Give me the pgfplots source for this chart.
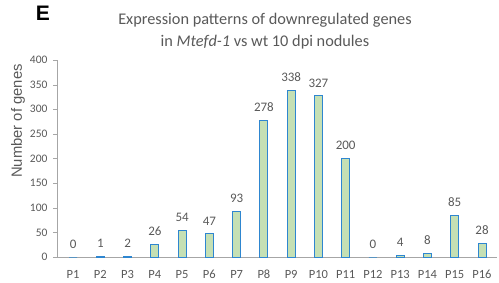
\documentclass[border=0pt]{standalone}
\usepackage{pgfplots}
\pgfplotsset{compat=1.18}
\usepackage{fontspec}
\setmainfont{Carlito}
\newfontfamily\arial{Liberation Sans}
\definecolor{txt}{HTML}{595959}
\definecolor{axgray}{HTML}{A6A6A6}
\definecolor{barfill}{HTML}{C5E0B4}
\definecolor{baredge}{HTML}{2E86D0}
\begin{document}
\begin{tikzpicture}[x=1pt,y=1pt]
\useasboundingbox (0,0) rectangle (499,282);
\node[anchor=center,font=\arial\bfseries\fontsize{21}{21}\selectfont] at (43,269) {E};
\node[anchor=center,text=txt,font=\fontsize{16.3}{16.3}\selectfont] at (265,262) {Expression patterns of downregulated genes};
\node[anchor=center,text=txt,font=\fontsize{16.3}{16.3}\selectfont] at (265,240) {in \textit{Mtefd-1} vs wt 10 dpi nodules};
\node[anchor=center,rotate=90,text=txt,font=\arial\fontsize{14.8}{14.8}\selectfont] at (18,161) {Number of genes};
\begin{axis}[
  at={(57pt,25pt)}, anchor=origin,
  scale only axis, width=440pt, height=197pt,
  xmin=0.41, xmax=16.55, ymin=0, ymax=400,
  axis x line=bottom, axis y line=left,
  axis line style={axgray, -},
  xtick={1,...,16},
  xticklabels={P1,P2,P3,P4,P5,P6,P7,P8,P9,P10,P11,P12,P13,P14,P15,P16},
  x tick style={draw=none},
  ytick={0,50,...,400},
  y tick style={axgray},
  tick align=outside, major tick length=4pt,
  every tick label/.append style={text=txt},
  /pgf/number format/assume math mode=true,
  xticklabel style={font=\fontsize{12.5}{12.5}\selectfont, anchor=north, text height=8pt, text depth=0pt, yshift=-6pt},
  yticklabel style={font=\fontsize{11.5}{11.5}\selectfont, xshift=-2pt},
  ybar, bar width=8pt,
  nodes near coords,
  nodes near coords style={text=txt, font=\fontsize{13}{13}\selectfont, yshift=5pt},
  clip=false,
]
\addplot[fill=barfill, draw=baredge, line width=1pt] coordinates {
(1,0) (2,1) (3,2) (4,26) (5,54) (6,47) (7,93) (8,278) (9,338) (10,327) (11,200) (12,0) (13,4) (14,8) (15,85) (16,28)};
\end{axis}
\end{tikzpicture}
\end{document}
